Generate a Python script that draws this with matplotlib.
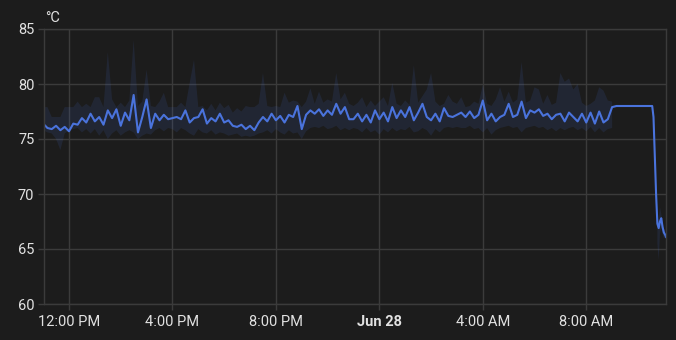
import numpy as np
import pandas as pd
import matplotlib
matplotlib.use("Agg")
import matplotlib.pyplot as plt
import matplotlib.dates as mdates

# ---------------- data ----------------
unit_label = "°C"
y_ticks = [60, 65, 70, 75, 80, 85]
x_tick_times = ["2024-06-27 12:00", "2024-06-27 16:00", "2024-06-27 20:00",
                "2024-06-28 00:00", "2024-06-28 04:00", "2024-06-28 08:00"]
x_tick_labels = ["12:00 PM", "4:00 PM", "8:00 PM", "Jun 28", "4:00 AM", "8:00 AM"]
x_start = "2024-06-27 11:02"
x_end = "2024-06-28 11:05"

main_start = "2024-06-27 11:00"   # 10-minute samples

temp_main = [
    # 11:00 - 14:50
    76.4, 76.0, 75.9, 76.2, 75.8, 76.1, 75.7, 76.4, 76.3, 76.9, 76.5, 77.3,
    76.6, 77.0, 76.3, 77.6, 76.9, 77.7, 76.2, 77.4, 76.7, 79.0, 75.6, 77.0,
    # 15:00 - 18:50
    78.6, 76.0, 77.3, 76.7, 77.2, 76.8, 76.9, 77.0, 76.8, 77.6, 76.5, 76.9,
    77.0, 77.7, 76.4, 76.9, 76.6, 77.3, 76.5, 76.7, 76.2, 76.1, 76.3, 75.9,
    # 19:00 - 22:50
    76.2, 75.8, 76.5, 77.0, 76.6, 77.3, 76.7, 77.1, 76.5, 77.2, 77.0, 78.0,
    75.9, 77.2, 77.6, 77.3, 77.7, 77.1, 77.6, 77.2, 78.2, 77.3, 77.9, 76.8,
    # 23:00 - 02:50
    76.8, 77.3, 76.6, 77.2, 76.5, 77.6, 76.8, 77.4, 76.6, 77.9, 76.9, 77.6,
    77.0, 77.9, 76.7, 77.4, 78.2, 77.0, 76.7, 77.3, 76.6, 77.8, 77.1, 77.0,
    # 03:00 - 06:50
    77.2, 77.4, 77.0, 77.5, 76.9, 77.2, 78.5, 76.7, 77.3, 76.6, 77.0, 77.2,
    78.2, 77.0, 77.2, 78.4, 76.9, 77.6, 77.4, 77.7, 77.1, 77.3, 76.8, 77.2,
    # 07:00 - 10:30
    77.3, 76.6, 77.4, 77.0, 76.6, 77.3, 76.5, 77.4, 76.4, 77.5, 76.5, 76.8,
    77.9, 78.0, 78.0, 78.0, 78.0, 78.0, 78.0, 78.0, 78.0, 78.0,
]

band_hi_main = [
    77.9, 77.9, 77.0, 77.0, 77.0, 77.9, 77.9, 77.9, 78.4, 77.9, 78.2, 77.9,
    78.8, 78.8, 77.9, 82.9, 78.6, 77.9, 78.3, 77.9, 78.5, 84.0, 78.0, 78.4,
    81.3, 78.0, 77.9, 78.4, 79.2, 77.9, 77.9, 77.9, 78.3, 77.9, 80.1, 82.2,
    77.9, 78.0, 77.6, 78.2, 77.6, 78.3, 77.8, 78.1, 77.4, 77.8, 77.5, 78.0,
    77.9, 77.9, 78.2, 81.0, 78.0, 77.9, 78.0, 77.9, 79.2, 78.3, 78.5, 78.4,
    77.9, 78.4, 79.6, 78.2, 79.3, 78.3, 78.6, 78.4, 81.0, 78.6, 79.2, 78.2,
    78.0, 78.3, 78.8, 77.9, 78.5, 78.0, 78.4, 78.8, 78.0, 80.1, 78.2, 78.0,
    78.5, 78.1, 81.7, 78.3, 78.9, 79.5, 81.0, 78.4, 78.0, 78.2, 79.0, 78.4,
    78.2, 78.8, 77.9, 78.0, 78.4, 78.2, 79.9, 78.2, 78.0, 78.6, 79.7, 78.4,
    79.3, 78.3, 78.6, 82.0, 78.3, 78.5, 79.7, 79.5, 78.2, 79.0, 78.1, 78.3,
    81.0, 80.2, 80.5, 79.5, 80.0, 78.3, 78.0, 78.2, 78.5, 79.7, 79.4, 78.5,
    78.4, np.nan, np.nan, np.nan, np.nan, np.nan, np.nan, np.nan, np.nan, np.nan,
]

band_lo_main = [
    75.8, 75.6, 75.5, 75.0, 74.0, 75.5, 75.8, 75.9, 76.0, 75.6, 75.9, 75.5,
    75.9, 75.3, 75.8, 75.0, 75.5, 75.8, 75.3, 75.6, 75.8, 75.6, 75.0, 75.3,
    75.5, 75.4, 75.8, 76.0, 75.7, 76.0, 75.9, 75.6, 76.0, 75.8, 75.5, 75.3,
    75.9, 75.6, 75.5, 75.8, 75.4, 75.6, 75.5, 75.3, 75.4, 75.5, 75.2, 75.3,
    75.2, 75.3, 75.5, 75.6, 75.8, 75.5, 75.9, 75.6, 75.4, 75.8, 75.5, 75.6,
    75.0, 75.7, 76.0, 76.1, 76.0, 76.2, 75.9, 76.0, 76.2, 75.8, 76.0, 75.8,
    76.0, 75.9, 75.6, 76.0, 75.6, 75.8, 75.4, 75.9, 75.6, 76.0, 75.7, 75.9,
    75.8, 76.1, 75.6, 75.7, 76.0, 75.8, 75.3, 75.9, 75.6, 76.0, 76.1, 76.0,
    76.1, 76.0, 76.0, 76.2, 75.9, 76.0, 75.6, 76.0, 75.4, 75.8, 76.0, 76.1,
    76.2, 76.0, 76.1, 75.6, 76.0, 76.1, 76.2, 76.0, 76.1, 75.8, 76.0, 75.7,
    76.0, 75.8, 76.0, 76.1, 75.8, 76.0, 75.7, 76.1, 75.6, 76.0, 75.6, 75.9,
    76.0, np.nan, np.nan, np.nan, np.nan, np.nan, np.nan, np.nan, np.nan, np.nan,
]

tail_times = ["2024-06-28 10:33", "2024-06-28 10:36", "2024-06-28 10:39",
              "2024-06-28 10:42", "2024-06-28 10:45", "2024-06-28 10:48",
              "2024-06-28 10:51", "2024-06-28 10:54", "2024-06-28 10:57",
              "2024-06-28 11:00", "2024-06-28 11:03", "2024-06-28 11:05"]
temp_tail = [78.0, 77.0, 73.5, 70.0, 67.3, 66.9, 67.5, 67.8, 67.0, 66.5, 66.3, 66.1]
band_hi_tail = [np.nan, np.nan, np.nan, np.nan, 67.8, 67.6, 68.8, 68.2, 67.4, 66.9, 66.6, 66.3]
band_lo_tail = [np.nan, np.nan, np.nan, np.nan, 65.5, 64.0, 66.4, 66.9, 66.4, 66.0, 66.0, 65.9]

# ---------------- style ----------------
BG = "#1c1c1c"
GRID = "#3b3b3b"
TEXT = "#e1e1e1"
LINE = "#4a73dc"

plt.rcParams["font.family"] = ["Roboto", "DejaVu Sans"]

fig = plt.figure(figsize=(6.76, 3.40), dpi=100, facecolor=BG)
ax = fig.add_axes([44 / 676, 1 - 304 / 340, (666 - 44) / 676, (304 - 29) / 340])
ax.set_facecolor(BG)

t_main = pd.date_range(main_start, periods=len(temp_main), freq="10min")
t_tail = pd.to_datetime(tail_times)

times = np.concatenate([t_main.values, t_tail.values])
temps = np.array(temp_main + temp_tail, dtype=float)
hi = np.array(band_hi_main + band_hi_tail, dtype=float)
lo = np.array(band_lo_main + band_lo_tail, dtype=float)

ax.fill_between(times, lo, hi, color=LINE, alpha=0.12, linewidth=0)
ax.plot(times, temps, color=LINE, linewidth=1.5, solid_joinstyle="round")

ax.set_xlim(pd.Timestamp(x_start), pd.Timestamp(x_end))
ax.set_ylim(60, 85)
ax.set_yticks(y_ticks)
ax.set_yticklabels([str(v) for v in y_ticks])
ax.set_xticks(pd.to_datetime(x_tick_times))
ax.set_xticklabels(x_tick_labels)
for lbl in ax.get_xticklabels():
    if lbl.get_text() == "Jun 28":
        lbl.set_fontweight("bold")

ax.grid(True, color=GRID, linewidth=1.0)
ax.set_axisbelow(True)
for s in ax.spines.values():
    s.set_color(GRID)
    s.set_linewidth(1.0)
ax.tick_params(axis="both", colors=GRID, labelcolor=TEXT, labelsize=10.5,
               length=4, width=1.0)
ax.tick_params(axis="y", pad=3)
ax.tick_params(axis="x", pad=4)

fig.text(45 / 676, 1 - 18 / 340, unit_label, color=TEXT, fontsize=10.5,
         ha="left", va="center")

fig.savefig("out.png", dpi=100, facecolor=BG)
